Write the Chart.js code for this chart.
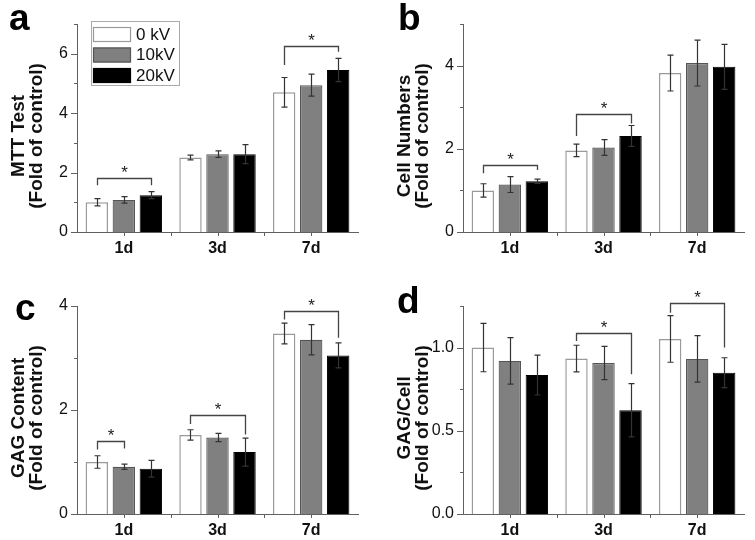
<!DOCTYPE html>
<html><head><meta charset="utf-8">
<script src="https://cdn.jsdelivr.net/npm/chart.js@4.4.0/dist/chart.umd.min.js"></script>
<style>
html,body{margin:0;padding:0;background:#fff;width:755px;height:540px;overflow:hidden;}
.p{position:absolute;width:369px;height:258px;}
</style></head><body>
<div class="p" style="left:0;top:0"><canvas id="ca"></canvas></div>
<div class="p" style="left:386px;top:0"><canvas id="cb"></canvas></div>
<div class="p" style="left:0;top:282px"><canvas id="cc"></canvas></div>
<div class="p" style="left:386px;top:282px"><canvas id="cd"></canvas></div>
<script>
// ---------- data ----------
const categories = ['1d', '3d', '7d'];
const seriesLabels = ['0 kV', '10kV', '20kV'];

// (a) MTT test
const mtt0kV  = [1.00, 2.51, 4.70];
const mtt10kV = [1.08, 2.62, 4.94];
const mtt20kV = [1.24, 2.62, 5.45];
const mttErr0kV  = [0.12, 0.08, 0.50];
const mttErr10kV = [0.11, 0.11, 0.37];
const mttErr20kV = [0.12, 0.32, 0.39];
// [category, fromSeries, toSeries, bracketValue, leftLegEnd, rightLegEnd]
const mttSig = [[0, 0, 2, 1.81, 1.57, 1.57], [2, 0, 2, 6.27, 5.62, 6.07]];
const mttTicks = [0, 2, 4, 6];
const mttTickLabels = ['0', '2', '4', '6'];

// (b) Cell numbers
const cell0kV  = [1.00, 1.96, 3.82];
const cell10kV = [1.14, 2.03, 4.06];
const cell20kV = [1.22, 2.31, 3.97];
const cellErr0kV  = [0.16, 0.15, 0.43];
const cellErr10kV = [0.19, 0.19, 0.55];
const cellErr20kV = [0.05, 0.25, 0.54];
const cellSig = [[0, 0, 2, 1.60, 1.41, 1.49], [1, 0, 2, 2.83, 2.31, 2.61]];
const cellTicks = [0, 2, 4];
const cellTickLabels = ['0', '2', '4'];

// (c) GAG content
const gag0kV  = [1.00, 1.52, 3.47];
const gag10kV = [0.91, 1.47, 3.35];
const gag20kV = [0.87, 1.19, 3.05];
const gagErr0kV  = [0.12, 0.10, 0.20];
const gagErr10kV = [0.05, 0.08, 0.29];
const gagErr20kV = [0.16, 0.27, 0.24];
const gagSig = [[0, 0, 1, 1.40, 1.24, 1.26], [1, 0, 2, 1.91, 1.73, 1.53], [2, 0, 2, 3.90, 3.74, 3.39]];
const gagTicks = [0, 2, 4];
const gagTickLabels = ['0', '2', '4'];

// (d) GAG / cell
const gpc0kV  = [1.00, 0.934, 1.052];
const gpc10kV = [0.92, 0.907, 0.932];
const gpc20kV = [0.835, 0.624, 0.849];
const gpcErr0kV  = [0.145, 0.08, 0.14];
const gpcErr10kV = [0.14, 0.10, 0.14];
const gpcErr20kV = [0.12, 0.16, 0.09];
const gpcSig = [[1, 0, 2, 1.086, 1.04, 0.84], [2, 0, 2, 1.27, 1.21, 1.00]];
const gpcTicks = [0, 0.5, 1.0];
const gpcTickLabels = ['0.0', '0.5', '1.0'];

// ---------- styles ----------
const FONT = "'Liberation Sans', Arial, Helvetica, sans-serif";
const fills = ['#ffffff', '#808080', '#000000'];
const borders = ['#9a9a9a', '#555555', '#000000'];
const borderW = [1.5, 1.2, 1];
const AX = '#606060';

const decoPlugin = {
  id: 'deco',
  afterDatasetsDraw(chart) {
    const o = chart.options.plugins.deco;
    const ctx = chart.ctx, ys = chart.scales.y;
    ctx.save();
    // error bars
    ctx.strokeStyle = '#333';
    ctx.lineWidth = 1.2;
    chart.data.datasets.forEach((ds, di) => {
      chart.getDatasetMeta(di).data.forEach((bar, i) => {
        const v = ds.data[i], e = ds.errors[i];
        const yt = ys.getPixelForValue(v + e), yb = ys.getPixelForValue(v - e);
        const x = Math.round(bar.x) + 0.5;
        ctx.beginPath();
        ctx.moveTo(x, yt); ctx.lineTo(x, yb);
        ctx.moveTo(x - 3, yt); ctx.lineTo(x + 3, yt);
        ctx.moveTo(x - 3, yb); ctx.lineTo(x + 3, yb);
        ctx.stroke();
      });
    });
    // significance brackets
    ctx.strokeStyle = '#444';
    ctx.lineWidth = 1.3;
    ctx.fillStyle = '#222';
    ctx.font = '17px ' + FONT;
    ctx.textAlign = 'center';
    ctx.textBaseline = 'alphabetic';
    o.sig.forEach(([cat, s1, s2, yv, l1, l2]) => {
      const x1 = Math.round(chart.getDatasetMeta(s1).data[cat].x) + 0.5;
      const x2 = Math.round(chart.getDatasetMeta(s2).data[cat].x) + 0.5;
      const y = Math.round(ys.getPixelForValue(yv)) + 0.5;
      ctx.beginPath();
      ctx.moveTo(x1, ys.getPixelForValue(l1));
      ctx.lineTo(x1, y); ctx.lineTo(x2, y);
      ctx.lineTo(x2, ys.getPixelForValue(l2));
      ctx.stroke();
      ctx.fillText('*', (x1 + x2) / 2, y - 1);
    });
    ctx.restore();
  },
  afterDraw(chart) {
    const o = chart.options.plugins.deco;
    const ctx = chart.ctx, ys = chart.scales.y, xs = chart.scales.x;
    const ca = chart.chartArea;
    ctx.save();
    ctx.strokeStyle = AX;
    ctx.lineWidth = 1;
    // y ticks (major / minor)
    ctx.beginPath();
    ys.ticks.forEach(t => {
      const y = Math.round(ys.getPixelForValue(t.value)) + 0.5;
      const len = o.major.includes(t.value) ? 6 : 3;
      ctx.moveTo(ca.left - len, y); ctx.lineTo(ca.left, y);
    });
    // x ticks at centres and boundaries
    const n = chart.data.labels.length;
    for (let i = 0; i < n; i++) {
      const x = Math.round(xs.getPixelForValue(i)) + 0.5;
      ctx.moveTo(x, ca.bottom); ctx.lineTo(x, ca.bottom + 4);
      if (i < n - 1) {
        const xb = Math.round((xs.getPixelForValue(i) + xs.getPixelForValue(i + 1)) / 2) + 0.5;
        ctx.moveTo(xb, ca.bottom); ctx.lineTo(xb, ca.bottom + 4);
      }
    }
    ctx.stroke();
    // panel letter
    ctx.fillStyle = '#000';
    ctx.font = 'bold 37px ' + FONT;
    ctx.textAlign = 'left';
    ctx.textBaseline = 'alphabetic';
    ctx.fillText(o.letter, o.lx, o.ly);
    // legend
    if (o.legend) {
      const bx = ca.left + 14, by = ca.top - 3;
      ctx.strokeStyle = '#aaa';
      ctx.lineWidth = 1;
      ctx.strokeRect(bx + 0.5, by + 0.5, 88, 64);
      ctx.font = '17px ' + FONT;
      ctx.textBaseline = 'middle';
      chart.data.datasets.forEach((ds, di) => {
        const ry = by + 6 + di * 20.5;
        ctx.fillStyle = ds.backgroundColor;
        ctx.fillRect(bx + 2, ry, 38, 15);
        ctx.strokeStyle = ds.borderColor;
        ctx.lineWidth = 1.2;
        ctx.strokeRect(bx + 2.5, ry + 0.5, 37, 14);
        ctx.fillStyle = '#111';
        ctx.fillText(ds.label, bx + 45, ry + 8);
      });
    }
    ctx.restore();
  }
};

function makePanel(id, letter, lx, ly, title, series, errs, sig, yMax, yStep, major, majorLabels, legend) {
  const datasets = series.map((d, i) => ({
    label: seriesLabels[i],
    data: d,
    errors: errs[i],
    backgroundColor: fills[i],
    borderColor: borders[i],
    borderWidth: borderW[i],
    categoryPercentage: 0.865,
    barPercentage: 0.83
  }));
  new Chart(document.getElementById(id), {
    type: 'bar',
    data: { labels: categories, datasets },
    plugins: [decoPlugin],
    options: {
      responsive: true,
      maintainAspectRatio: false,
      animation: false,
      events: [],
      layout: { padding: { left: 10, top: 24, right: 11, bottom: 0 } },
      plugins: {
        legend: { display: false },
        tooltip: { enabled: false },
        deco: { letter, lx, ly, sig, major, legend }
      },
      scales: {
        x: {
          grid: { display: false, drawTicks: false },
          border: { display: true, color: AX, width: 1 },
          ticks: { padding: 7, color: '#111', font: { family: FONT, size: 16, weight: 'bold' } },
          afterFit(s) { s.height = 26; }
        },
        y: {
          min: 0, max: yMax,
          grid: { display: false, drawTicks: false },
          border: { display: true, color: AX, width: 1 },
          ticks: {
            stepSize: yStep,
            padding: 9,
            color: '#111',
            font: { family: FONT, size: 16 },
            callback(v) { const k = major.findIndex(m => Math.abs(m - v) < 1e-9); return k >= 0 ? majorLabels[k] : ''; }
          },
          title: {
            display: true,
            text: title.map(t => t + '\u00a0\u00a0\u00a0'),
            color: '#111',
            padding: { top: 0, bottom: 0 },
            font: { family: FONT, size: 19, weight: 'bold', lineHeight: 0.95 }
          },
          afterFit(s) { s.width = 67; }
        }
      }
    }
  });
}

makePanel('ca', 'a', 9, 30, ['MTT Test', '(Fold of control)'],
  [mtt0kV, mtt10kV, mtt20kV], [mttErr0kV, mttErr10kV, mttErr20kV], mttSig, 7, 1, mttTicks, mttTickLabels, true);
makePanel('cb', 'b', 12, 30, ['Cell Numbers', '(Fold of control)'],
  [cell0kV, cell10kV, cell20kV], [cellErr0kV, cellErr10kV, cellErr20kV], cellSig, 5, 1, cellTicks, cellTickLabels, false);
makePanel('cc', 'c', 15, 38, ['GAG Content', '(Fold of control)'],
  [gag0kV, gag10kV, gag20kV], [gagErr0kV, gagErr10kV, gagErr20kV], gagSig, 4, 1, gagTicks, gagTickLabels, false);
makePanel('cd', 'd', 11, 31, ['GAG/Cell', '(Fold of control)'],
  [gpc0kV, gpc10kV, gpc20kV], [gpcErr0kV, gpcErr10kV, gpcErr20kV], gpcSig, 1.25, 0.25, gpcTicks, gpcTickLabels, false);
</script>
</body></html>
